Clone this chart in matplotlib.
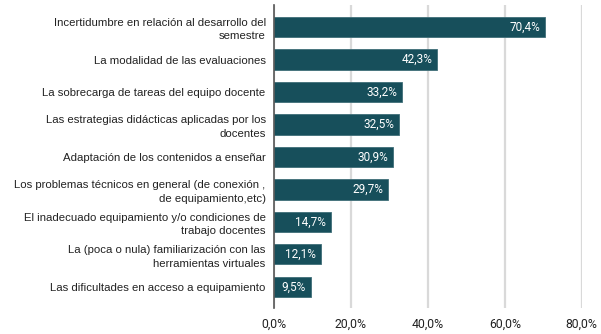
import numpy as np
import matplotlib.pyplot as plt
import matplotlib as mpl

mpl.rcParams['font.family'] = ['Liberation Sans', 'DejaVu Sans']

categorias = ['Incertidumbre en relación al desarrollo del\nsemestre',
              'La modalidad de las evaluaciones',
              'La sobrecarga de tareas del equipo docente',
              'Las estrategias didácticas aplicadas por los\ndocentes',
              'Adaptación de los contenidos a enseñar',
              'Los problemas técnicos en general (de conexión ,\nde equipamiento,etc)',
              'El inadecuado equipamiento y/o condiciones de\ntrabajo docentes',
              'La (poca o nula) familiarización con las\nherramientas virtuales',
              'Las dificultades en acceso a equipamiento']
porcentajes = [70.4, 42.3, 33.2, 32.5, 30.9, 29.7, 14.7, 12.1, 9.5]
etiquetas = ['70,4%', '42,3%', '33,2%', '32,5%', '30,9%', '29,7%', '14,7%', '12,1%', '9,5%']
ticks_x = [0, 20, 40, 60, 80]
ticks_lbl = ['0,0%', '20,0%', '40,0%', '60,0%', '80,0%']

color_barra = '#174f5b'

fig = plt.figure(figsize=(6.01, 3.34), dpi=100)
ax = fig.add_axes([0.456, 0.078, 0.512, 0.907])

y = np.arange(len(categorias))
ax.barh(y, porcentajes, height=0.62, color=color_barra, edgecolor='#3f6e78',
        linewidth=0.6, zorder=3)

for yi, v, lbl in zip(y, porcentajes, etiquetas):
    ax.text(v - 1.2, yi, lbl, ha='right', va='center', color='white',
            fontsize=8.5, family=['Roboto', 'DejaVu Sans'], zorder=4)

ax.set_ylim(len(categorias) - 0.35, -0.68)
ax.set_xlim(0, 80)
ax.set_yticks(y)
ax.set_yticklabels(categorias, fontsize=8.2, ha='right', linespacing=1.4,
                   color='#222222')
ax.set_xticks(ticks_x)
ax.set_xticklabels(ticks_lbl, fontsize=8.8, family=['Roboto', 'DejaVu Sans'],
                   color='#222222')
ax.tick_params(axis='both', length=0)
ax.tick_params(axis='y', pad=6)
ax.tick_params(axis='x', pad=7)

ax.grid(axis='x', color='#d9d9d9', linewidth=1.6, zorder=0)
for s in ['top', 'right', 'bottom']:
    ax.spines[s].set_visible(False)
ax.spines['left'].set_color('#555555')
ax.spines['left'].set_linewidth(1.2)
ax.spines['left'].set_zorder(5)

fig.savefig('out.png', dpi=100)
